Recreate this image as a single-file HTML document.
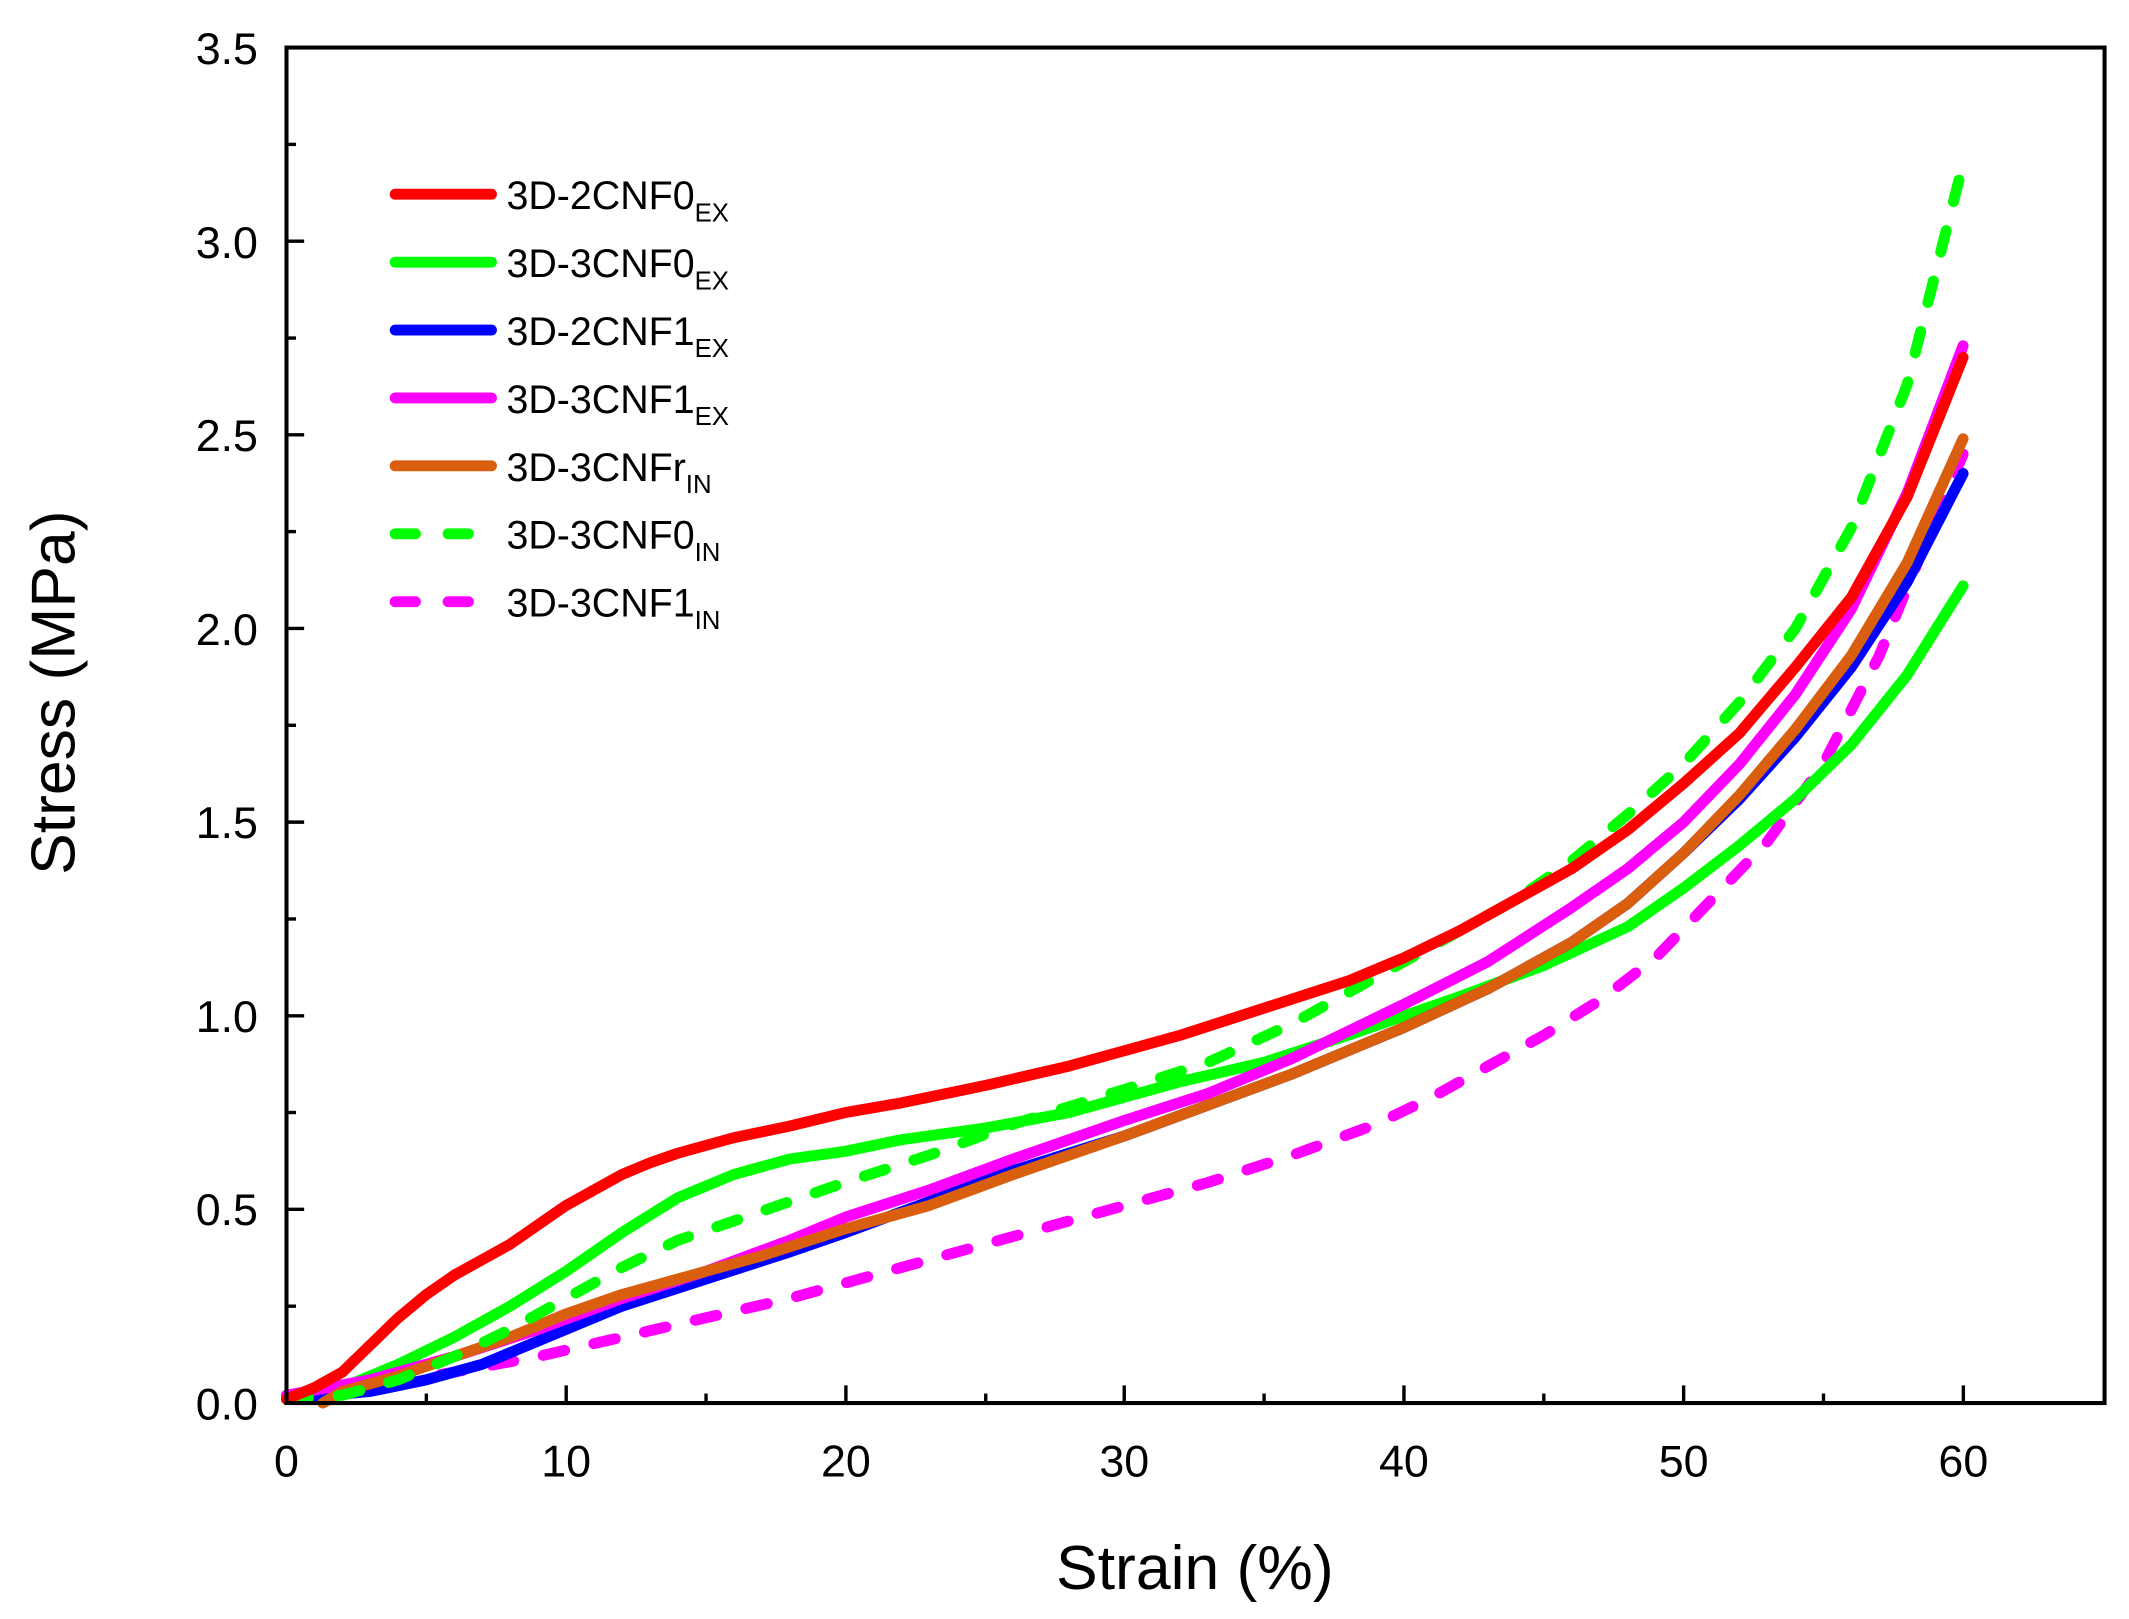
<!DOCTYPE html>
<html><head><meta charset="utf-8"><style>html,body{margin:0;padding:0;background:#fff}svg{display:block}</style></head>
<body>
<svg width="2129" height="1619" viewBox="0 0 1568 1192" preserveAspectRatio="none" xmlns="http://www.w3.org/2000/svg" font-family="Liberation Sans, Arial, sans-serif">
<rect width="1568" height="1192" fill="#fff"/>
<g fill="none" stroke-linecap="round" stroke-linejoin="round" transform="translate(211,1033) scale(20.58,-285.14)">
<polyline vector-effect="non-scaling-stroke" stroke="#ff00ff" stroke-width="11" stroke-dasharray="22,30" points="0,0.02 3,0.04 6,0.08 9,0.12 12,0.17 15,0.22 18,0.27 21,0.33 24,0.39 27,0.45 30,0.51 33,0.57 36,0.64 39,0.72 41,0.79 43,0.87 45,0.95 47,1.04 49,1.15 51,1.3 53,1.45 55,1.65 57,1.93 59,2.28 60,2.45"/>
<polyline vector-effect="non-scaling-stroke" stroke="#00ff00" stroke-width="11" points="0,0.01 2,0.04 4,0.1 6,0.17 8,0.25 10,0.34 12,0.44 14,0.53 16,0.59 18,0.63 20,0.65 22,0.68 25,0.71 28,0.75 30,0.79 32,0.83 35,0.88 38,0.95 40,1.0 42,1.05 45,1.13 48,1.23 50,1.33 52,1.44 54,1.56 56,1.7 58,1.88 60,2.11"/>
<polyline vector-effect="non-scaling-stroke" stroke="#0000ff" stroke-width="11" points="0,0.01 3,0.03 5,0.06 7,0.1 10,0.19 12,0.25 15,0.32 18,0.39 20,0.44 23,0.52 26,0.6 30,0.69 33,0.77 36,0.85 40,0.97 43,1.07 46,1.19 48,1.29 50,1.42 52,1.56 54,1.72 56,1.9 58,2.12 60,2.4"/>
<polyline vector-effect="non-scaling-stroke" stroke="#ff00ff" stroke-width="11" points="0,0.02 3,0.06 6,0.12 9,0.19 12,0.27 15,0.34 18,0.42 20,0.48 23,0.55 26,0.63 30,0.73 33,0.8 36,0.89 40,1.03 43,1.14 46,1.28 48,1.38 50,1.5 52,1.65 54,1.83 56,2.05 58,2.35 60,2.73"/>
<polyline vector-effect="non-scaling-stroke" stroke="#d95f0e" stroke-width="11" points="1.3,0 2,0.03 4,0.07 6,0.12 8,0.17 10,0.23 12,0.28 14,0.32 17,0.38 20,0.45 23,0.51 26,0.59 30,0.69 33,0.77 36,0.85 40,0.97 43,1.07 46,1.19 48,1.29 50,1.42 52,1.57 54,1.74 56,1.93 58,2.17 60,2.49"/>
<polyline vector-effect="non-scaling-stroke" stroke="#00ff00" stroke-width="11" stroke-dasharray="22,30" points="0,0.01 2,0.02 4,0.06 6,0.12 8,0.19 10,0.27 12,0.35 14,0.42 16,0.47 18,0.52 20,0.57 23,0.64 26,0.72 30,0.81 33,0.88 36,0.98 38,1.06 40,1.14 42,1.22 44,1.3 46,1.4 48,1.52 50,1.65 52,1.81 54,2.0 56,2.26 58,2.63 60,3.2"/>
<polyline vector-effect="non-scaling-stroke" stroke="#ff0000" stroke-width="11" points="0,0.01 1,0.04 2,0.08 3,0.15 4,0.22 5,0.28 6,0.33 7,0.37 8,0.41 9,0.46 10,0.51 11,0.55 12,0.59 13,0.62 14,0.645 15,0.665 16,0.685 18,0.715 20,0.75 22,0.775 25,0.82 28,0.87 30,0.91 32,0.95 35,1.02 38,1.09 40,1.15 42,1.22 44,1.3 46,1.38 48,1.48 50,1.6 52,1.73 54,1.9 56,2.08 58,2.34 60,2.7"/>
</g>
<rect x="211" y="35" width="1339" height="998" fill="none" stroke="#000" stroke-width="3"/>
<g stroke="#000" stroke-width="2.5">
<line x1="211" y1="1033" x2="211" y2="1020"/><line x1="417" y1="1033" x2="417" y2="1020"/><line x1="623" y1="1033" x2="623" y2="1020"/><line x1="828" y1="1033" x2="828" y2="1020"/><line x1="1034" y1="1033" x2="1034" y2="1020"/><line x1="1240" y1="1033" x2="1240" y2="1020"/><line x1="1446" y1="1033" x2="1446" y2="1020"/>
<line x1="314" y1="1033" x2="314" y2="1026"/><line x1="520" y1="1033" x2="520" y2="1026"/><line x1="726" y1="1033" x2="726" y2="1026"/><line x1="931" y1="1033" x2="931" y2="1026"/><line x1="1137" y1="1033" x2="1137" y2="1026"/><line x1="1343" y1="1033" x2="1343" y2="1026"/>
<line x1="211" y1="890.4" x2="224" y2="890.4"/><line x1="211" y1="747.9" x2="224" y2="747.9"/><line x1="211" y1="605.3" x2="224" y2="605.3"/><line x1="211" y1="462.7" x2="224" y2="462.7"/><line x1="211" y1="320.1" x2="224" y2="320.1"/><line x1="211" y1="177.6" x2="224" y2="177.6"/>
<line x1="211" y1="961.7" x2="218" y2="961.7"/><line x1="211" y1="819.1" x2="218" y2="819.1"/><line x1="211" y1="676.6" x2="218" y2="676.6"/><line x1="211" y1="534" x2="218" y2="534"/><line x1="211" y1="391.4" x2="218" y2="391.4"/><line x1="211" y1="248.9" x2="218" y2="248.9"/><line x1="211" y1="106.3" x2="218" y2="106.3"/>
</g>
<g font-size="33" fill="#000" text-anchor="end">
<text x="190" y="1045">0.0</text><text x="190" y="902">0.5</text><text x="190" y="760">1.0</text><text x="190" y="617">1.5</text><text x="190" y="475">2.0</text><text x="190" y="332">2.5</text><text x="190" y="190">3.0</text><text x="190" y="47">3.5</text>
</g>
<g font-size="33" fill="#000" text-anchor="middle">
<text x="211" y="1087">0</text><text x="417" y="1087">10</text><text x="623" y="1087">20</text><text x="828" y="1087">30</text><text x="1034" y="1087">40</text><text x="1240" y="1087">50</text><text x="1446" y="1087">60</text>
</g>
<text x="880" y="1170" font-size="46" text-anchor="middle">Strain (%)</text>
<text transform="translate(55,510) rotate(-90)" font-size="46" text-anchor="middle">Stress (MPa)</text>
<g stroke-width="8" stroke-linecap="round">
<line x1="291" y1="143" x2="362" y2="143" stroke="#ff0000"/>
<line x1="291" y1="193" x2="362" y2="193" stroke="#00ff00"/>
<line x1="291" y1="243" x2="362" y2="243" stroke="#0000ff"/>
<line x1="291" y1="293" x2="362" y2="293" stroke="#ff00ff"/>
<line x1="291" y1="343" x2="362" y2="343" stroke="#d95f0e"/>
<line x1="291" y1="393" x2="306" y2="393" stroke="#00ff00"/><line x1="330" y1="393" x2="345" y2="393" stroke="#00ff00"/>
<line x1="291" y1="443" x2="306" y2="443" stroke="#ff00ff"/><line x1="330" y1="443" x2="345" y2="443" stroke="#ff00ff"/>
</g>
<g font-size="29" fill="#000">
<text x="373" y="154">3D-2CNF0<tspan font-size="19" dy="9">EX</tspan></text>
<text x="373" y="204">3D-3CNF0<tspan font-size="19" dy="9">EX</tspan></text>
<text x="373" y="254">3D-2CNF1<tspan font-size="19" dy="9">EX</tspan></text>
<text x="373" y="304">3D-3CNF1<tspan font-size="19" dy="9">EX</tspan></text>
<text x="373" y="354">3D-3CNFr<tspan font-size="19" dy="9">IN</tspan></text>
<text x="373" y="404">3D-3CNF0<tspan font-size="19" dy="9">IN</tspan></text>
<text x="373" y="454">3D-3CNF1<tspan font-size="19" dy="9">IN</tspan></text>
</g>
</svg>
</body></html>
